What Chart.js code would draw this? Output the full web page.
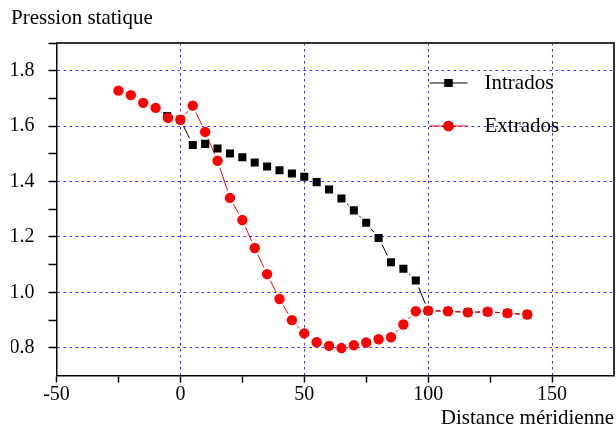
<!DOCTYPE html>
<html>
<head>
<meta charset="utf-8">
<script src="https://cdn.jsdelivr.net/npm/chart.js@4"></script>
<style>
  html, body { margin: 0; padding: 0; background: #fff; }
  canvas { display: block; }
</style>
</head>
<body>
<canvas id="chart1" width="616" height="432"></canvas>
<script>
// values
const intradosX = [-5.3, 0, 5, 10, 15, 20, 25, 30, 35, 40, 45, 50, 55, 60, 65, 70, 75, 80, 85, 90, 95, 100, 108, 116, 124, 132, 140];
const intradosY = [1.636, 1.623, 1.532, 1.536, 1.519, 1.501, 1.488, 1.469, 1.454, 1.441, 1.429, 1.417, 1.398, 1.371, 1.339, 1.296, 1.251, 1.196, 1.109, 1.085, 1.043, 0.934, 0.932, 0.928, 0.930, 0.925, 0.920];

const extradosX = [-25, -20, -15, -10, -5, 0, 5, 10, 15, 20, 25, 30, 35, 40, 45, 50, 55, 60, 65, 70, 75, 80, 85, 90, 95, 100, 108, 116, 124, 132, 140];
const extradosY = [1.728, 1.712, 1.684, 1.666, 1.630, 1.623, 1.674, 1.579, 1.475, 1.341, 1.261, 1.160, 1.066, 0.976, 0.900, 0.852, 0.820, 0.807, 0.799, 0.809, 0.819, 0.831, 0.838, 0.884, 0.932, 0.934, 0.932, 0.928, 0.930, 0.925, 0.920];

const xTickValues = [-50, -25, 0, 25, 50, 75, 100, 125, 150, 175];
const xTickLabels = ['-50', '', '0', '', '50', '', '100', '', '150', ''];
const yTickValues = [0.7, 0.8, 0.9, 1.0, 1.1, 1.2, 1.3, 1.4, 1.5, 1.6, 1.7, 1.8, 1.9];
const yTickLabels = ['', '0.8', '', '1.0', '', '1.2', '', '1.4', '', '1.6', '', '1.8', ''];

const serif = 'Liberation Serif';
const gridBlue = '#2f2fff';

function toPoints(xs, ys) {
  return xs.map((x, i) => ({x: x, y: ys[i]}));
}

// Origin style lines: broken near each symbol
const gapLines = {
  id: 'gapLines',
  beforeDatasetsDraw(chart) {
    const ctx = chart.ctx;
    const gap = 7.5;
    ctx.save();
    ctx.lineWidth = 1;
    // draw black first so red sits on top
    [0, 1].forEach((i) => {
      const meta = chart.getDatasetMeta(i);
      const pts = meta.data;
      ctx.strokeStyle = chart.data.datasets[i].lineColor;
      for (let k = 0; k < pts.length - 1; k++) {
        const a = pts[k], b = pts[k + 1];
        const dx = b.x - a.x, dy = b.y - a.y;
        const d = Math.sqrt(dx * dx + dy * dy);
        if (d <= 2 * gap) continue;
        const ux = dx / d, uy = dy / d;
        ctx.beginPath();
        ctx.moveTo(a.x + ux * gap, a.y + uy * gap);
        ctx.lineTo(b.x - ux * gap, b.y - uy * gap);
        ctx.stroke();
      }
    });
    ctx.restore();
  }
};

const frameAndLegend = {
  id: 'frameAndLegend',
  afterDraw(chart) {
    const ctx = chart.ctx;
    const a = chart.chartArea;
    ctx.save();
    ctx.strokeStyle = '#333';
    ctx.lineWidth = 2;
    ctx.beginPath();
    ctx.moveTo(a.left, a.top);
    ctx.lineTo(a.right, a.top);
    ctx.lineTo(a.right, a.bottom);
    ctx.stroke();

    // legend
    const rows = [
      {ds: chart.data.datasets[0], y: a.top + 40},
      {ds: chart.data.datasets[1], y: a.top + 83}
    ];
    const x0 = a.left + 373;
    rows.forEach((r) => {
      ctx.strokeStyle = r.ds.lineColor;
      ctx.lineWidth = 1;
      ctx.beginPath();
      ctx.moveTo(x0, r.y);
      ctx.lineTo(x0 + 38, r.y);
      ctx.stroke();
      Chart.helpers.drawPoint(ctx, {
        pointStyle: r.ds.pointStyle,
        radius: r.ds.pointRadius,
        borderWidth: 0
      }, x0 + 19, r.y);
      ctx.fillStyle = r.ds.pointBackgroundColor;
      ctx.fill();
      ctx.fillStyle = '#000';
      ctx.font = '21px "' + serif + '"';
      ctx.textAlign = 'left';
      ctx.textBaseline = 'middle';
      ctx.fillText(r.ds.label, x0 + 55, r.y);
    });
    ctx.restore();
  }
};

const chart1 = new Chart(document.getElementById('chart1'), {
  type: 'scatter',
  data: {
    datasets: [{
      label: 'Intrados',
      data: toPoints(intradosX, intradosY),
      pointStyle: 'rect',
      pointRadius: 5.7,
      pointBackgroundColor: '#000000',
      pointBorderWidth: 0,
      lineColor: '#000000',
      showLine: false,
      order: 1
    }, {
      label: 'Extrados',
      data: toPoints(extradosX, extradosY),
      pointStyle: 'circle',
      pointRadius: 5.2,
      pointBackgroundColor: '#ff0000',
      pointBorderWidth: 0,
      lineColor: '#ff0000',
      showLine: false,
      order: 0
    }]
  },
  plugins: [gapLines, frameAndLegend],
  options: {
    responsive: false,
    animation: false,
    devicePixelRatio: 1,
    events: [],
    layout: { autoPadding: false, padding: { left: 11, right: 2, top: 0, bottom: 0 } },
    scales: {
      x: {
        type: 'linear',
        min: -50,
        max: 175,
        afterBuildTicks: (scale) => { scale.ticks = xTickValues.map((v) => ({value: v})); },
        afterFit: (scale) => {
          scale.height = 56.5;
          scale.paddingRight = 0;
          scale.paddingLeft = 0;
        },
        ticks: {
          autoSkip: false,
          maxRotation: 0,
          padding: 0,
          color: '#000',
          font: { family: serif, size: 20 },
          callback: (value, index) => xTickLabels[index]
        },
        grid: {
          color: (c) => (c.index > 0 && xTickLabels[c.index] !== '') ? gridBlue : 'transparent',
          lineWidth: 1,
          tickLength: 7,
          tickColor: (c) => c.index === xTickValues.length - 1 ? 'transparent' : '#000',
          tickWidth: 1.5
        },
        border: { color: '#000', width: 1.5, dash: [2.5, 3.5] },
        title: {
          display: true,
          text: 'Distance méridienne',
          align: 'end',
          color: '#000',
          font: { family: serif, size: 21 },
          padding: { top: 0, bottom: 0.5 }
        }
      },
      y: {
        type: 'linear',
        min: 0.7,
        max: 1.9,
        afterBuildTicks: (scale) => { scale.ticks = yTickValues.map((v) => ({value: v})); },
        afterFit: (scale) => { scale.width = 45.5; },
        ticks: {
          autoSkip: false,
          padding: 14,
          color: '#000',
          font: { family: serif, size: 20 },
          callback: (value, index) => yTickLabels[index]
        },
        grid: {
          color: (c) => yTickLabels[c.index] !== '' ? gridBlue : 'transparent',
          lineWidth: 1,
          tickLength: 8,
          tickColor: (c) => c.index === 0 ? 'transparent' : '#000',
          tickWidth: 1.5
        },
        border: { color: '#000', width: 1.5, dash: [2.5, 3.5] }
      }
    },
    plugins: {
      legend: { display: false },
      tooltip: { enabled: false },
      title: {
        display: true,
        text: 'Pression statique',
        align: 'start',
        color: '#000',
        font: { family: serif, size: 21, weight: 'normal' },
        padding: { top: 5.4, bottom: 12.4 }
      }
    }
  }
});
</script>
</body>
</html>
